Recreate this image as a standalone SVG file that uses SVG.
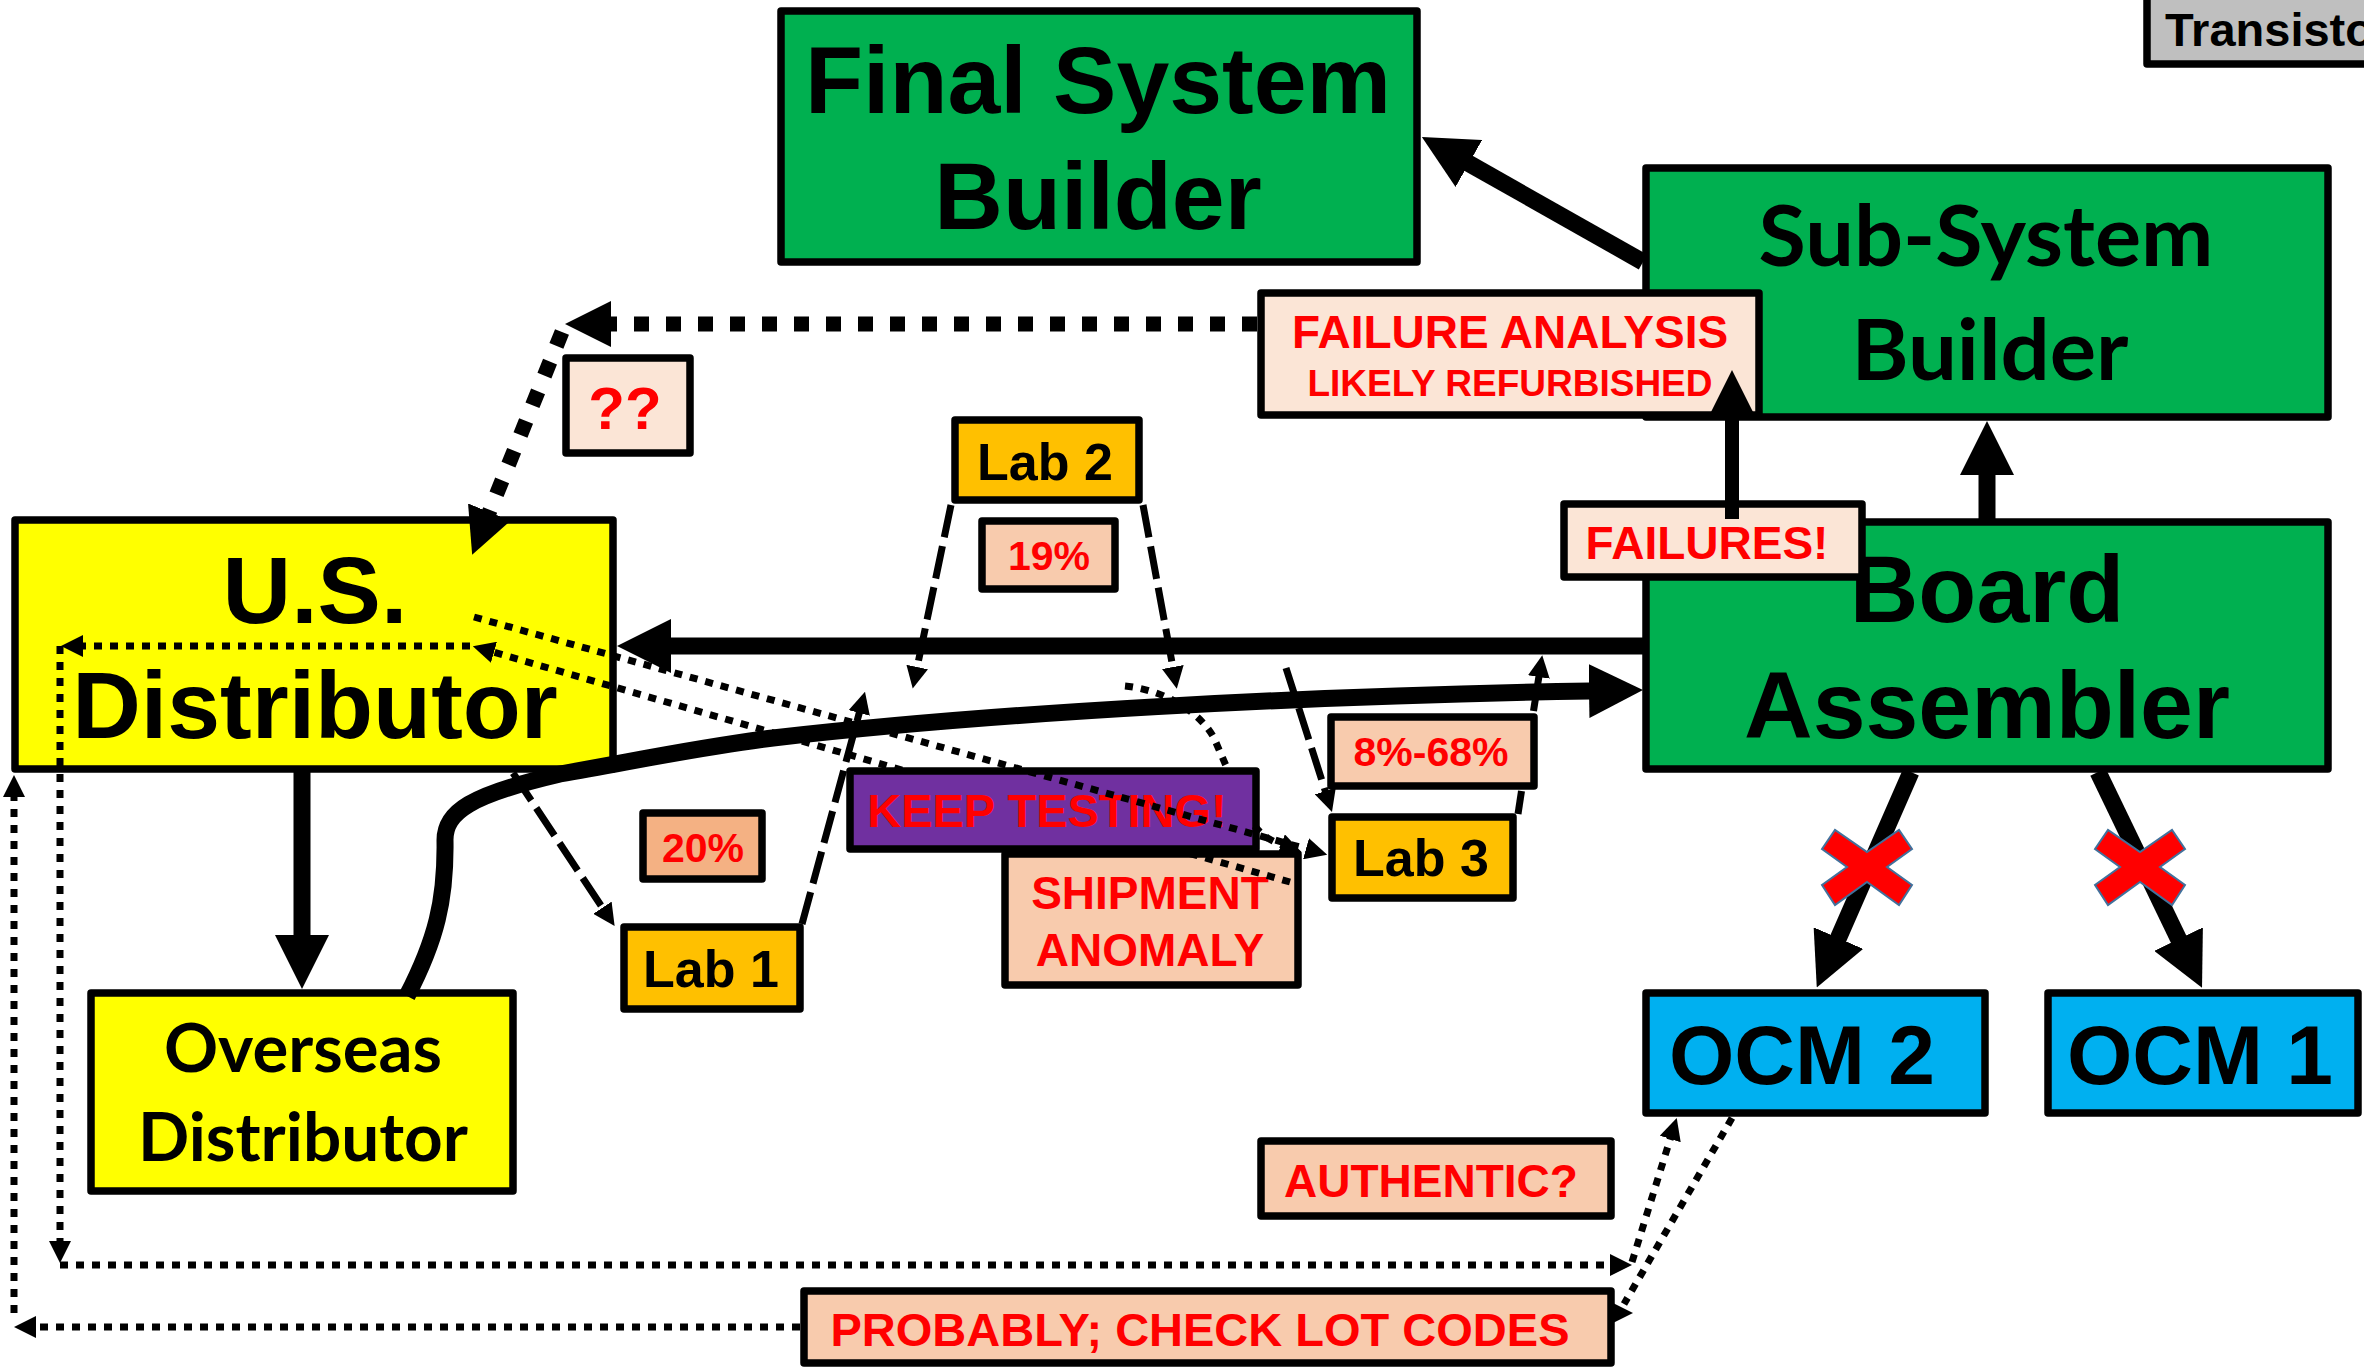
<svg xmlns="http://www.w3.org/2000/svg" width="2364" height="1369" viewBox="0 0 2364 1369">
<defs>
<style>
.box{stroke:#000;stroke-width:7.5;stroke-linejoin:round}
.green{fill:#00B050}.yel{fill:#FFFF00}.lab{fill:#FFC000}.blue{fill:#00B0F0}.purp{fill:#7030A0}.peach{fill:#F8CBAD}.salmon{fill:#F4B183}.light{fill:#FBE5D6}.gray{fill:#BFBFBF}
text{font-family:"Liberation Sans",Arial,sans-serif;font-weight:bold;text-anchor:middle;fill:#000}
.cal{font-family:Lato,"Open Sans",sans-serif}
.red{fill:#FF0000}
.hv{fill:none;stroke:#000;stroke-width:17}
.md{fill:none;stroke:#000;stroke-width:14}
.ds{fill:none;stroke:#000;stroke-width:7;stroke-dasharray:33 9}
.sl{fill:none;stroke:#000;stroke-width:7}
.dt{fill:none;stroke:#000;stroke-width:7;stroke-dasharray:8 8}
.td{fill:none;stroke:#000;stroke-width:15;stroke-dasharray:15 17}
.xm{fill:#FF0000;stroke:#41719C;stroke-width:2}
</style>
<marker id="ahv" markerUnits="userSpaceOnUse" viewBox="0 0 54 54" markerWidth="54" markerHeight="54" refX="1" refY="27" orient="auto"><path d="M0,0 L54,27 L0,54 z" fill="#000"/></marker>
<marker id="amd" markerUnits="userSpaceOnUse" viewBox="0 0 46 46" markerWidth="46" markerHeight="46" refX="1" refY="23" orient="auto"><path d="M0,0 L46,23 L0,46 z" fill="#000"/></marker>
<marker id="aml" markerUnits="userSpaceOnUse" viewBox="0 0 42 42" markerWidth="42" markerHeight="42" refX="1" refY="21" orient="auto"><path d="M0,0 L42,21 L0,42 z" fill="#000"/></marker>
<marker id="asm" markerUnits="userSpaceOnUse" viewBox="0 0 22 22" markerWidth="22" markerHeight="22" refX="1" refY="11" orient="auto"><path d="M0,0 L22,11 L0,22 z" fill="#000"/></marker>
<polygon id="xmark" class="xm" points="-45,-18 -32,-37 0,-15 32,-37 45,-18 20,0 45,18 32,38 0,15 -32,38 -45,18 -20,0"/>
</defs>

<g id="nodes">
<g id="final-system-builder"><rect class="box green" x="781" y="11" width="636" height="251"/><text x="1098" y="113" font-size="95">Final System</text><text x="1098" y="229" font-size="95">Builder</text></g>
<g id="sub-system-builder"><rect class="box green" x="1646" y="168" width="682" height="249"/><text class="cal" x="1986" y="266" font-size="85" textLength="455" lengthAdjust="spacingAndGlyphs">Sub-System</text><text class="cal" x="1990" y="380" font-size="85" textLength="277" lengthAdjust="spacingAndGlyphs">Builder</text></g>
<g id="transistor"><rect class="box gray" x="2147" y="-10" width="230" height="74"/><text x="2165" y="46" font-size="47" style="text-anchor:start">Transisto</text></g>
<g id="board-assembler"><rect class="box green" x="1646" y="522" width="682" height="247"/><text x="1987" y="622" font-size="95">Board</text><text x="1987" y="738" font-size="95">Assembler</text></g>
<g id="us-distributor"><rect class="box yel" x="15" y="520" width="598" height="249"/><text x="315" y="623" font-size="95">U.S.</text><text x="315" y="738" font-size="95">Distributor</text></g>
<g id="overseas-distributor"><rect class="box yel" x="91" y="993" width="422" height="198"/><text class="cal" x="303" y="1072" font-size="67" textLength="278" lengthAdjust="spacingAndGlyphs">Overseas</text><text class="cal" x="303" y="1161" font-size="67" textLength="330" lengthAdjust="spacingAndGlyphs">Distributor</text></g>
<g id="ocm2"><rect class="box blue" x="1646" y="993" width="339" height="120"/><text x="1802" y="1084" font-size="84">OCM 2</text></g>
<g id="ocm1"><rect class="box blue" x="2048" y="993" width="310" height="120"/><text x="2200" y="1084" font-size="84">OCM 1</text></g>
<g id="lab1"><rect class="box lab" x="624" y="927" width="176" height="82"/><text x="711" y="987" font-size="52">Lab 1</text></g>
<g id="lab2"><rect class="box lab" x="955" y="420" width="184" height="80"/><text x="1045" y="480" font-size="52">Lab 2</text></g>
<g id="lab3"><rect class="box lab" x="1332" y="817" width="181" height="81"/><text x="1421" y="876" font-size="52">Lab 3</text></g>
<g id="pct19"><rect class="box peach" x="982" y="521" width="133" height="68"/><text class="red" x="1049" y="570" font-size="41">19%</text></g>
<g id="pct20"><rect class="box salmon" x="643" y="813" width="119" height="66"/><text class="red" x="703" y="862" font-size="41">20%</text></g>
<g id="pct8-68"><rect class="box peach" x="1331" y="717" width="203" height="69"/><text class="red" x="1431" y="766" font-size="41">8%-68%</text></g>
<g id="keep-testing"><rect class="box purp" x="850" y="771" width="406" height="78"/><text class="red" x="1047" y="827" font-size="47">KEEP TESTING!</text></g>
<g id="shipment-anomaly"><rect class="box peach" x="1005" y="854" width="293" height="131"/><text class="red" x="1150" y="909" font-size="46">SHIPMENT</text><text class="red" x="1150" y="966" font-size="46">ANOMALY</text></g>
<g id="qq"><rect class="box light" x="566" y="358" width="124" height="95"/><text class="red" x="625" y="429" font-size="60">??</text></g>
<g id="failure-analysis"><rect class="box light" x="1261" y="293" width="498" height="122"/><text class="red" x="1510" y="348" font-size="46">FAILURE ANALYSIS</text><text class="red" x="1510" y="396" font-size="37">LIKELY REFURBISHED</text></g>
<g id="failures"><rect class="box light" x="1564" y="504" width="298" height="73"/><text class="red" x="1707" y="559" font-size="46">FAILURES!</text></g>
<g id="authentic"><rect class="box peach" x="1261" y="1141" width="350" height="75"/><text class="red" x="1431" y="1197" font-size="46">AUTHENTIC?</text></g>
<g id="probably"><rect class="box peach" x="804" y="1291" width="807" height="72"/><text class="red" x="1200" y="1346" font-size="47">PROBABLY; CHECK LOT CODES</text></g>
</g>

<g id="connectors">
<path class="hv" d="M1643,262 L1468,163" marker-end="url(#ahv)"/>
<path class="hv" d="M1987,521 L1987,474" marker-end="url(#ahv)"/>
<path class="hv" d="M1643,646 L670,646" marker-end="url(#ahv)"/>
<path class="hv" d="M302,772 L302,936" marker-end="url(#ahv)"/>
<path class="hv" d="M407,996 C436,940 446,900 445,840 C445,812 470,795 560,774 C640,760 700,747 773,738 C1000,712 1300,696 1590,691" marker-end="url(#ahv)"/>
<path class="hv" d="M1911,772 L1838,939" marker-end="url(#ahv)"/>
<path class="hv" d="M2098,772 L2179,940" marker-end="url(#ahv)"/>
<path class="md" d="M1732,519 L1732,411" marker-end="url(#aml)"/>
<path class="ds" d="M951,505 L917,668" marker-end="url(#asm)"/>
<path class="ds" d="M1143,505 L1173,668" marker-end="url(#asm)"/>
<path class="ds" d="M802,924 L859.5,712" marker-end="url(#asm)"/>
<path class="ds" d="M513,773 L603,908.5" marker-end="url(#asm)"/>
<path class="ds" d="M1286,668 L1325.6,792" marker-end="url(#asm)"/>
<path class="sl" d="M1518,814 L1521.5,791"/>
<path class="sl" d="M1533.5,711 L1539,676" marker-end="url(#asm)"/>
<path class="dt" d="M470,646 L82,646" marker-end="url(#asm)"/>
<path class="dt" d="M60,646 L60,1242" marker-end="url(#asm)"/>
<path class="dt" d="M60,1265 L1611,1265" marker-end="url(#asm)"/>
<path class="dt" d="M1632,1262 L1670.5,1138" marker-end="url(#asm)"/>
<path class="dt" d="M800,1327 L35,1327" marker-end="url(#asm)"/>
<path class="dt" d="M14,1313 L14,796" marker-end="url(#asm)"/>
<path class="dt" d="M1732,1118 L1624,1304"/>
<path class="sl" d="M1610,1313 L1612,1313" marker-end="url(#asm)"/>
<path class="dt" d="M474,617 L1307,849" marker-end="url(#asm)"/>
<path class="dt" d="M1290,882 L1188,853"/>
<path class="dt" d="M902,770 L493,652" marker-end="url(#asm)"/>
<path class="dt" d="M1125,686 C1165,690 1200,712 1214,738 L1227,768"/>
<path class="dt" d="M1255,826 Q1263,838 1282,845" marker-end="url(#asm)"/>
<path class="td" d="M1257,324 L610,324" marker-end="url(#amd)"/>
<path class="td" d="M562,332 L489,513" marker-end="url(#amd)"/>
</g>

<g id="crosses">
<use href="#xmark" x="1867" y="867"/>
<use href="#xmark" x="2140" y="867"/>
</g>
</svg>
